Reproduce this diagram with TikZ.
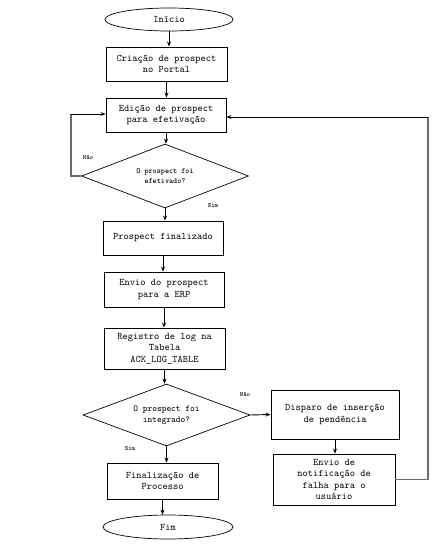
\documentclass[tikz,border=0pt]{standalone}
\usepackage{fontspec}
\usetikzlibrary{shapes.geometric,arrows.meta}
\begin{document}
\begin{tikzpicture}[x=1pt,y=-1pt,
  font=\ttfamily\fontsize{10}{11.5}\selectfont,
  proc/.style={draw, line width=0.9pt, align=center, inner sep=1pt},
  term/.style={draw, ellipse, line width=0.7pt, inner sep=0pt},
  dec/.style={draw, diamond, line width=0.7pt, inner sep=0pt, aspect=2.6, align=center},
  arr/.style={-{Stealth[length=5pt,width=4pt]}, line width=0.9pt},
  back/.style={draw=gray!85!black, line width=1.4pt},
  lbl/.style={font=\ttfamily\bfseries\fontsize{6.5}{7}\selectfont, inner sep=0pt}]
\useasboundingbox (0,0) rectangle (442,549);
\node[term, minimum width=128pt, minimum height=23pt] (inicio) at (169,19.5) {Início};
\node[proc, minimum width=121pt, minimum height=34pt] (criacao) at (166.5,64) {Criação de prospect\\no Portal};
\node[proc, minimum width=120pt, minimum height=34pt] (edicao) at (166,115) {Edição de prospect\\para efetivação};
\node[dec, minimum width=167pt, minimum height=64pt, font=\ttfamily\bfseries\fontsize{7.8}{10}\selectfont] (d1) at (165,176) {O prospect foi\\efetivado?};
\node[proc, minimum width=120pt, minimum height=34pt] (final) at (163,238) {Prospect finalizado};
\node[proc, minimum width=120pt, minimum height=35pt] (envio) at (164,289.5) {Envio do prospect\\para a ERP};
\node[proc, minimum width=121pt, minimum height=41pt] (registro) at (164.5,348.5) {Registro de log na\\Tabela\\ACK\_LOG\_TABLE};
\node[dec, minimum width=167pt, minimum height=62pt, font=\ttfamily\fontsize{9}{11.5}\selectfont] (d2) at (166.5,415) {O prospect foi\\integrado?};
\node[proc, minimum width=128pt, minimum height=49pt] (disparo) at (335,414.5) {Disparo de inserção\\de pendência};
\node[proc, minimum width=122pt, minimum height=51pt] (notif) at (334,479.5) {Envio de\\notificação de\\falha para o\\usuário};
\node[proc, minimum width=111pt, minimum height=36pt] (finaliz) at (162.5,481) {Finalização de\\Processo};
\node[term, minimum width=130pt, minimum height=24pt] (fim) at (168,527) {Fim};
\node[lbl] (nao1) at (88,157) {Não};
\node[lbl] (sim1) at (213,206) {Sim};
\node[lbl] (nao2) at (245,394) {Não};
\node[lbl] (sim2) at (130,449) {Sim};
\coordinate (lx) at (71,114);
\coordinate (rx) at (428,117);
\draw[arr] (inicio.south) -- (inicio.south |- criacao.north);
\draw[arr] (criacao.south) -- (criacao.south |- edicao.north);
\draw[arr] (edicao.south) -- (edicao.south |- d1.north);
\draw[arr] (d1.south) -- (d1.south |- final.north);
\draw[arr] (final.south) -- (final.south |- envio.north);
\draw[arr] (envio.south) -- (envio.south |- registro.north);
\draw[arr] (registro.south) -- (registro.south |- d2.north);
\draw[arr] (d2.south) -- (d2.south |- finaliz.north);
\draw[arr] (finaliz.south) -- (finaliz.south |- fim.north);
\draw[arr] (d2.east) -- (disparo.west);
\draw[arr] (disparo.south) -- (disparo.south |- notif.north);
\draw[back] (d1.west) -| (lx);
\draw[arr] (lx) -- (lx -| edicao.west);
\draw[back] (notif.east) -| (rx);
\draw[arr] (rx) -- (rx -| edicao.east);
\end{tikzpicture}
\end{document}
